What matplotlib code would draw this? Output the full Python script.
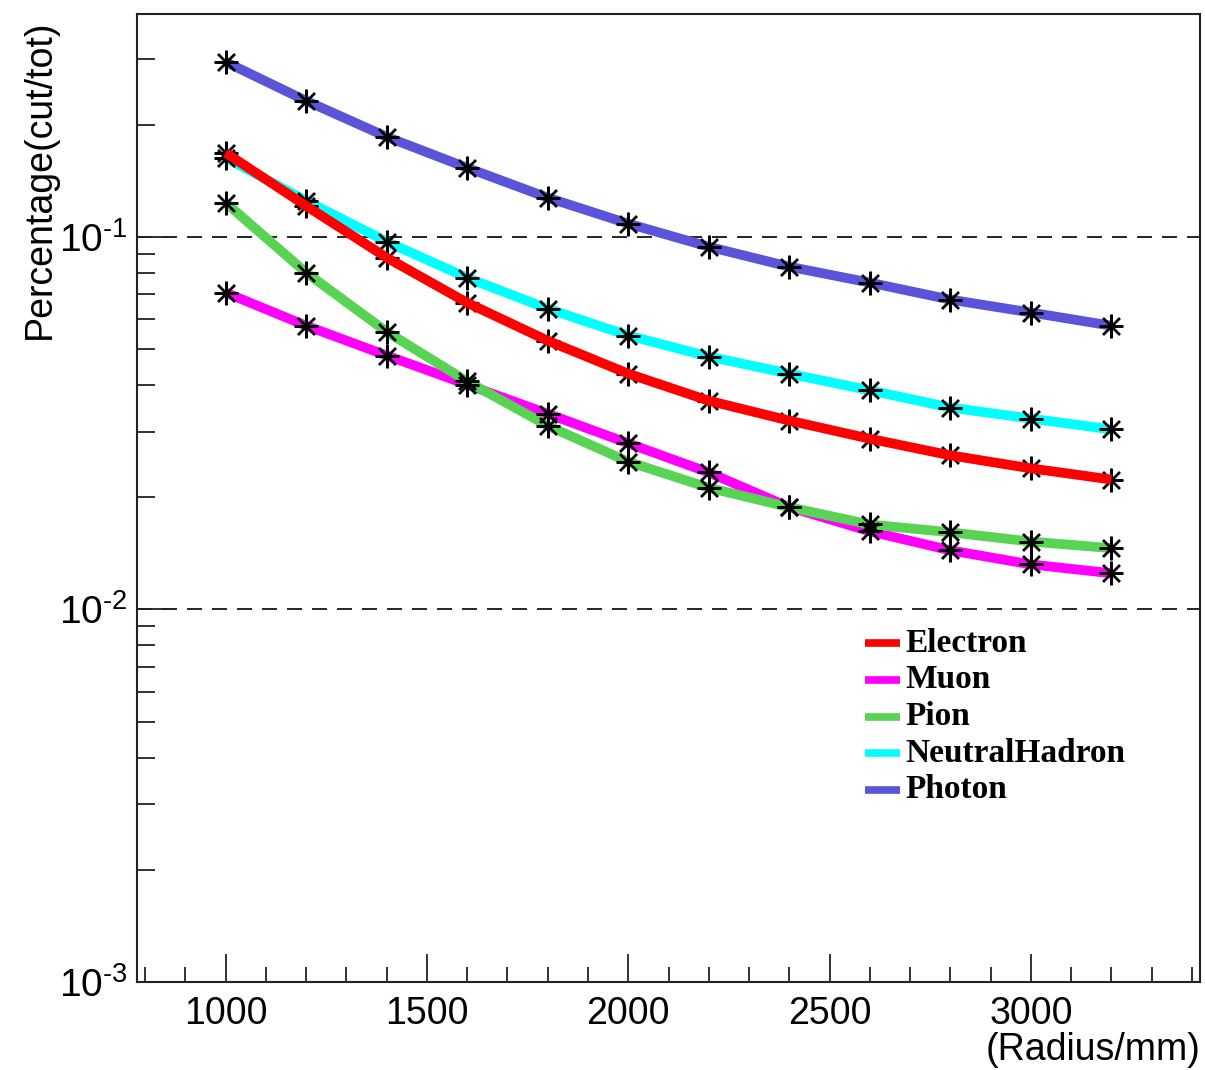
import matplotlib
matplotlib.use("Agg")
import matplotlib.pyplot as plt
from matplotlib.ticker import LogLocator, NullFormatter, FixedLocator, MultipleLocator, FixedFormatter

plt.rcParams['font.family'] = ['Liberation Sans', 'DejaVu Sans']
plt.rcParams['mathtext.fontset'] = 'custom'
plt.rcParams['mathtext.rm'] = 'Liberation Sans'
plt.rcParams['mathtext.it'] = 'Liberation Sans:italic'
plt.rcParams['mathtext.bf'] = 'Liberation Sans:bold'

# ---- data ----
radius = [1000, 1200, 1400, 1600, 1800, 2000, 2200, 2400, 2600, 2800, 3000, 3200]
electron = [0.168, 0.121, 0.0879, 0.0665, 0.0526, 0.0429, 0.0363, 0.0321, 0.0287, 0.0259, 0.0239, 0.0223]
muon = [0.0708, 0.0577, 0.0480, 0.0401, 0.0335, 0.0279, 0.0233, 0.0188, 0.0162, 0.0144, 0.0132, 0.0125]
pion = [0.1234, 0.0801, 0.0556, 0.0409, 0.0311, 0.0249, 0.0212, 0.0188, 0.0169, 0.0161, 0.0152, 0.0146]
neutral = [0.1629, 0.1249, 0.0970, 0.0776, 0.0641, 0.0543, 0.0477, 0.0429, 0.0387, 0.0348, 0.0325, 0.0304]
photon = [0.2945, 0.2316, 0.1854, 0.1531, 0.1273, 0.1084, 0.0940, 0.0831, 0.0753, 0.0678, 0.0626, 0.0577]

series_names = ["Electron", "Muon", "Pion", "NeutralHadron", "Photon"]
series_values = [electron, muon, pion, neutral, photon]
series_colors = ["#ff0000", "#ff00ff", "#59d354", "#00ffff", "#5954d8"]

y_major = [1e-3, 1e-2, 1e-1]
y_labels = [r'$\mathregular{10^{\text{-}3}}$', r'$\mathregular{10^{\text{-}2}}$',
            r'$\mathregular{10^{\text{-}1}}$']

fig = plt.figure(figsize=(12.05, 10.70), dpi=100)
ax = fig.add_axes([137/1205, 88/1070, 1063/1205, 968/1070])

for i, (name, vals, col) in enumerate(zip(series_names, series_values, series_colors)):
    lz = 3.5 if name == "Electron" else 2 + i * 0.1
    ax.plot(radius, vals, color=col, lw=7, solid_capstyle='butt', zorder=lz)
    ax.plot(radius, vals, ls='none', marker=(8, 2, 0), ms=17, mew=1.7, mec='black',
            color='black', zorder=3)
    ax.plot(radius, vals, ls='none', marker='o', ms=5, mew=0, color='black', zorder=3)

ax.set_yscale('log')
ax.set_xlim(780, 3420)
ax.set_ylim(1e-3, 0.396)

ax.xaxis.set_major_locator(MultipleLocator(500))
ax.xaxis.set_minor_locator(MultipleLocator(100))
ax.yaxis.set_major_locator(FixedLocator(y_major))
ax.yaxis.set_major_formatter(FixedFormatter(y_labels))
ax.yaxis.set_minor_locator(LogLocator(base=10, subs=range(2, 10)))
ax.yaxis.set_minor_formatter(NullFormatter())

ax.tick_params(axis='both', which='both', direction='in', top=False, right=False,
               width=1.3, color='#222222')
ax.tick_params(axis='y', which='major', length=23, labelsize=28, pad=7)
ax.tick_params(axis='y', which='minor', length=13)
ax.tick_params(axis='x', which='major', length=20, labelsize=27, pad=10)
ax.tick_params(axis='x', which='minor', length=11)

for y in [1e-2, 1e-1]:
    ax.axhline(y, color='black', lw=1.2, dashes=(9, 6), zorder=1)

for sp in ax.spines.values():
    sp.set_linewidth(1.5)
    sp.set_color('#222222')

ax.set_ylabel("Percentage(cut/tot)", fontsize=27, loc='top')
ax.yaxis.set_label_coords(-0.074, 0.994)
ax.set_xlabel("(Radius/mm)", fontsize=27, loc='right')
ax.xaxis.set_label_coords(1.0, -0.052)

# legend (drawn manually to mimic ROOT TLegend)
lx0, lx1, tx = (865-137)/1063, (900-137)/1063, (905-137)/1063
ly0, ldy = (982-643)/968, 36.75/968
for i, (name, col) in enumerate(zip(series_names, series_colors)):
    yy = ly0 - i * ldy
    ax.plot([lx0, lx1], [yy, yy], transform=ax.transAxes, color=col, lw=5.5,
            solid_capstyle='butt', zorder=5)
    ax.text(tx, yy, name, transform=ax.transAxes, fontsize=24, fontweight='bold',
            family=['Liberation Serif', 'DejaVu Serif'], va='center', ha='left', zorder=5)

fig.savefig("out.png", dpi=100)
